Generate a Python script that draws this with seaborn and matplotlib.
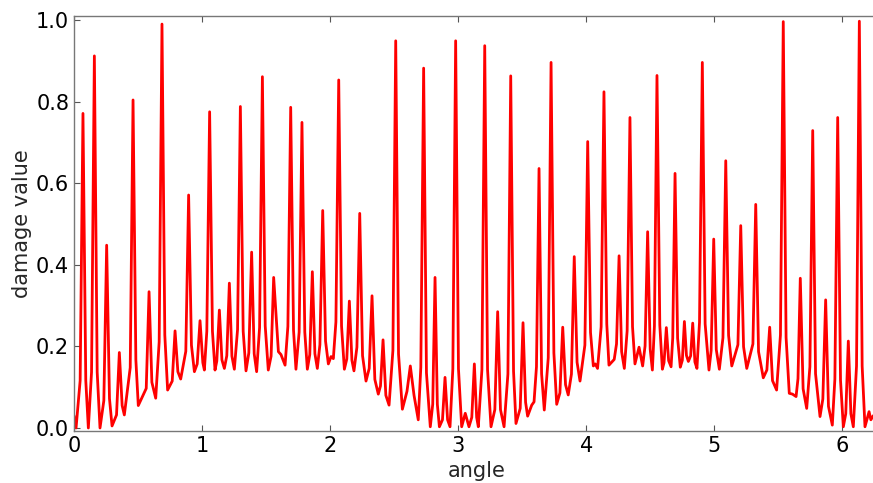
import numpy as np
import pandas as pd
import matplotlib
matplotlib.use("Agg")
import matplotlib.pyplot as plt
import seaborn as sns

# Vertices of the damage curve: peaks, peak bases and valleys
angle = [
    0.000, 0.016, 0.048, 0.070, 0.092, 0.112, 0.137, 0.159, 0.181, 0.203,
    0.233, 0.255, 0.277, 0.297, 0.332, 0.354, 0.376, 0.393, 0.439, 0.461,
    0.483, 0.502, 0.564, 0.586, 0.608, 0.638, 0.665, 0.687, 0.709, 0.731,
    0.767, 0.789, 0.811, 0.833, 0.873, 0.895, 0.917, 0.940, 0.962, 0.984,
    1.006, 1.018, 1.037, 1.059, 1.081, 1.101, 1.115, 1.135, 1.155, 1.174,
    1.193, 1.213, 1.233, 1.252, 1.277, 1.299, 1.321, 1.343, 1.365, 1.387,
    1.407, 1.426, 1.449, 1.471, 1.493, 1.517, 1.539, 1.559, 1.596, 1.616,
    1.648, 1.670, 1.692, 1.714, 1.733, 1.758, 1.780, 1.802, 1.822, 1.841,
    1.861, 1.881, 1.900, 1.920, 1.942, 1.964, 1.986, 2.007, 2.025, 2.045,
    2.067, 2.089, 2.111, 2.130, 2.150, 2.170, 2.186, 2.209, 2.231, 2.253,
    2.280, 2.305, 2.327, 2.349, 2.376, 2.393, 2.413, 2.435, 2.460, 2.490,
    2.512, 2.534, 2.564, 2.600, 2.626, 2.655, 2.688, 2.708, 2.730, 2.752,
    2.782, 2.801, 2.819, 2.837, 2.853, 2.877, 2.897, 2.917, 2.936, 2.958,
    2.980, 3.002, 3.027, 3.055, 3.084, 3.106, 3.126, 3.144, 3.157, 3.185,
    3.207, 3.229, 3.256, 3.286, 3.308, 3.330, 3.358, 3.388, 3.410, 3.432,
    3.451, 3.484, 3.506, 3.526, 3.542, 3.574, 3.592, 3.611, 3.631, 3.651,
    3.672, 3.703, 3.725, 3.747, 3.769, 3.794, 3.816, 3.838, 3.859, 3.884,
    3.906, 3.928, 3.951, 3.989, 4.011, 4.033, 4.055, 4.070, 4.088, 4.116,
    4.138, 4.160, 4.177, 4.218, 4.236, 4.256, 4.276, 4.297, 4.319, 4.341,
    4.361, 4.380, 4.412, 4.440, 4.459, 4.479, 4.499, 4.516, 4.532, 4.552,
    4.574, 4.594, 4.607, 4.625, 4.643, 4.662, 4.675, 4.693, 4.713, 4.734,
    4.750, 4.766, 4.782, 4.797, 4.815, 4.831, 4.848, 4.864, 4.884, 4.906,
    4.928, 4.958, 4.975, 4.995, 5.015, 5.039, 5.067, 5.089, 5.111, 5.136,
    5.184, 5.206, 5.228, 5.253, 5.301, 5.323, 5.345, 5.382, 5.410, 5.432,
    5.454, 5.486, 5.516, 5.538, 5.560, 5.585, 5.610, 5.638, 5.653, 5.671,
    5.693, 5.721, 5.746, 5.768, 5.790, 5.825, 5.847, 5.869, 5.891, 5.921,
    5.941, 5.963, 5.985, 6.007, 6.026, 6.046, 6.066, 6.085, 6.110, 6.132,
    6.154, 6.176, 6.208, 6.222, 6.240,
]
damage = [
    0.030, 0.000, 0.116, 0.771, 0.116, 0.000, 0.137, 0.912, 0.137, 0.000,
    0.067, 0.448, 0.072, 0.005, 0.032, 0.185, 0.055, 0.032, 0.148, 0.804,
    0.167, 0.055, 0.097, 0.334, 0.112, 0.073, 0.211, 0.990, 0.228, 0.093,
    0.115, 0.238, 0.138, 0.120, 0.188, 0.571, 0.203, 0.138, 0.157, 0.263,
    0.160, 0.142, 0.237, 0.775, 0.237, 0.142, 0.164, 0.289, 0.167, 0.146,
    0.177, 0.355, 0.176, 0.144, 0.241, 0.788, 0.237, 0.140, 0.184, 0.431,
    0.182, 0.138, 0.246, 0.861, 0.250, 0.142, 0.176, 0.369, 0.187, 0.180,
    0.154, 0.249, 0.786, 0.240, 0.144, 0.235, 0.749, 0.235, 0.144, 0.180,
    0.383, 0.182, 0.146, 0.204, 0.533, 0.213, 0.157, 0.175, 0.170, 0.260,
    0.853, 0.250, 0.144, 0.169, 0.311, 0.166, 0.140, 0.198, 0.526, 0.177,
    0.115, 0.146, 0.324, 0.119, 0.083, 0.103, 0.216, 0.080, 0.056, 0.190,
    0.949, 0.181, 0.046, 0.090, 0.152, 0.080, 0.020, 0.149, 0.882, 0.135,
    0.003, 0.058, 0.369, 0.058, 0.003, 0.020, 0.124, 0.020, 0.003, 0.145,
    0.949, 0.145, 0.003, 0.036, 0.003, 0.026, 0.157, 0.026, 0.003, 0.143,
    0.937, 0.143, 0.003, 0.045, 0.285, 0.045, 0.003, 0.132, 0.863, 0.139,
    0.011, 0.048, 0.258, 0.063, 0.029, 0.056, 0.064, 0.150, 0.636, 0.133,
    0.044, 0.172, 0.896, 0.184, 0.058, 0.086, 0.247, 0.106, 0.081, 0.132,
    0.420, 0.161, 0.115, 0.203, 0.702, 0.234, 0.152, 0.157, 0.146, 0.248,
    0.824, 0.255, 0.154, 0.168, 0.206, 0.422, 0.187, 0.146, 0.238, 0.761,
    0.248, 0.157, 0.198, 0.152, 0.201, 0.481, 0.193, 0.142, 0.250, 0.864,
    0.252, 0.144, 0.160, 0.246, 0.165, 0.150, 0.221, 0.624, 0.220, 0.149,
    0.166, 0.261, 0.178, 0.163, 0.177, 0.257, 0.162, 0.146, 0.259, 0.896,
    0.255, 0.142, 0.190, 0.463, 0.192, 0.144, 0.221, 0.655, 0.227, 0.152,
    0.204, 0.496, 0.199, 0.146, 0.206, 0.548, 0.187, 0.123, 0.142, 0.247,
    0.116, 0.093, 0.228, 0.996, 0.222, 0.085, 0.083, 0.077, 0.121, 0.367,
    0.096, 0.048, 0.150, 0.729, 0.133, 0.028, 0.071, 0.314, 0.053, 0.007,
    0.120, 0.761, 0.117, 0.003, 0.035, 0.213, 0.035, 0.003, 0.152, 0.997,
    0.152, 0.003, 0.040, 0.020, 0.030,
]
x_ticks = [0, 1, 2, 3, 4, 5, 6]
y_ticks = [0.0, 0.2, 0.4, 0.6, 0.8, 1.0]

df = pd.DataFrame({"angle": angle, "damage value": damage})

sns.set_style("white")
plt.rcParams["font.family"] = ["DejaVu Sans"]

W, H = 873, 483
fig = plt.figure(figsize=(W / 100, H / 100), dpi=100)
left, bottom = 74 / W, 1 - 431 / H
ax = fig.add_axes([left, bottom, 804.7 / W, 415 / H])

sns.lineplot(data=df, x="angle", y="damage value", sort=False, estimator=None,
             color="red", linewidth=2, ax=ax)

ax.set_xlim(0, 2 * np.pi)
ax.set_ylim(-0.0074, 1.0098)
ax.set_xticks(x_ticks)
ax.set_xticklabels([str(t) for t in x_ticks])
ax.set_yticks(y_ticks)
ax.set_yticklabels([f"{t:.1f}" for t in y_ticks])
ax.tick_params(direction="in", length=4, width=0.8, colors="#555555",
               labelcolor="black", labelsize=15, top=True, right=True,
               bottom=True, left=True, pad=3.5)
for s in ax.spines.values():
    s.set_color("#777777")
    s.set_linewidth(1.0)
ax.set_xlabel("angle", fontsize=15, labelpad=4)
ax.set_ylabel("damage value", fontsize=15, labelpad=3)

fig.savefig("out.png", dpi=100)
